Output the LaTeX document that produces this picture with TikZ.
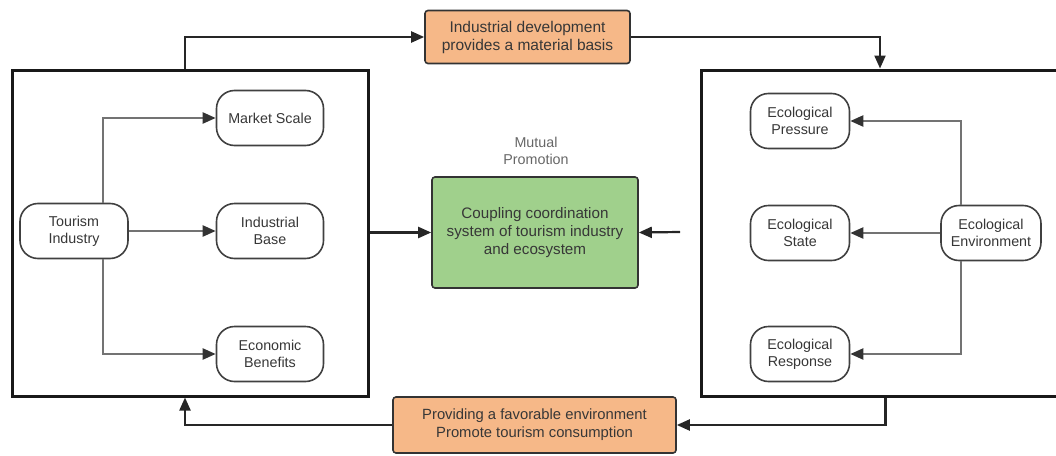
\documentclass[tikz,border=0pt]{standalone}
\usepackage{fontspec}
\setmainfont{Liberation Sans}
\usepackage{xcolor}
\usetikzlibrary{arrows.meta}
\definecolor{notefill}{RGB}{246,184,136}
\definecolor{corefill}{RGB}{160,208,140}
\definecolor{inktext}{RGB}{55,55,55}

\begin{document}
\begin{tikzpicture}[x=1pt, y=-1pt,
    font=\fontsize{14.3}{17}\selectfont,
    bigbox/.style={draw=black!90, line width=3pt, inner sep=0pt},
    item/.style={draw=black!75, line width=1.6pt, rounded corners=18pt, minimum height=55pt, align=center, text=inktext, fill=white},
    note/.style={draw=black!80, line width=1.6pt, rounded corners=3pt, fill=notefill, align=center, text=inktext, minimum height=53pt},
    link/.style={draw=black!55, line width=2.2pt, -{Triangle[length=13pt, width=11pt, color=black!80]}},
    mainlink/.style={draw=black!85, line width=2.2pt, -{Triangle[length=13pt, width=11pt]}}]
          \clip (0,0) rectangle (1056,455);
          \node[bigbox, minimum width=356pt, minimum height=326pt] (tourbox) at (190,233) {};
          \node[bigbox, minimum width=369pt, minimum height=326pt] (ecobox) at (885.5,233) {};
          \node[item, minimum width=108pt] (tour) at (74,231) {Tourism\\Industry};
          \node[item, minimum width=107pt] (market) at (270,118) {Market Scale};
          \node[item, minimum width=107pt] (base) at (270,231) {Industrial\\Base};
          \node[item, minimum width=107pt] (benefit) at (270,354) {Economic\\Benefits};
          \node[item, minimum width=99pt] (pressure) at (800,121) {Ecological\\Pressure};
          \node[item, minimum width=99pt] (state) at (800,233) {Ecological\\State};
          \node[item, minimum width=99pt] (response) at (800,354) {Ecological\\Response};
          \node[item, minimum width=100pt] (env) at (991,233) {Ecological\\Environment};
          \node[note, minimum width=205pt, font=\fontsize{15.5}{18}\selectfont] (topnote) at (527.5,37) {Industrial development\\provides a material basis};
          \node[note, minimum width=283pt, minimum height=56pt, font=\fontsize{14.8}{18}\selectfont] (botnote) at (534.5,425) {Providing a favorable environment\\Promote tourism consumption};
          \node[draw=black!80, line width=1.6pt, rounded corners=3pt, fill=corefill, align=center, text=inktext, minimum width=206pt, minimum height=111pt, font=\fontsize{15.2}{18}\selectfont] (core) at (535,232.5) {Coupling coordination\\system of tourism industry\\and ecosystem};
          \node[align=center, text=black!60] (mutual) at (536,151) {Mutual\\Promotion};
          \coordinate (ecoin) at (680,232);
          \draw[link] ([xshift=29pt]tour.north) |- (market.west);
          \draw[link] (tour.east) -- (base.west);
          \draw[link] ([xshift=29pt]tour.south) |- (benefit.west);
          \draw[link] ([xshift=-30pt]env.north) |- (pressure.east);
          \draw[link] (env.west) -- (state.east);
          \draw[link] ([xshift=-30pt]env.south) |- (response.east);
          \draw[mainlink] ([xshift=-5pt]tourbox.north) |- (topnote.west);
          \draw[mainlink] (topnote.east) -| ([xshift=-5.5pt]ecobox.north);
          \draw[mainlink] (ecobox.south) |- (botnote.east);
          \draw[mainlink] (botnote.west) -| ([xshift=-5pt]tourbox.south);
          \draw[mainlink] (tourbox.east |- core.west) -- (core.west);
          \draw[mainlink] (ecoin) -- (core.east);
        \end{tikzpicture}
\end{document}
